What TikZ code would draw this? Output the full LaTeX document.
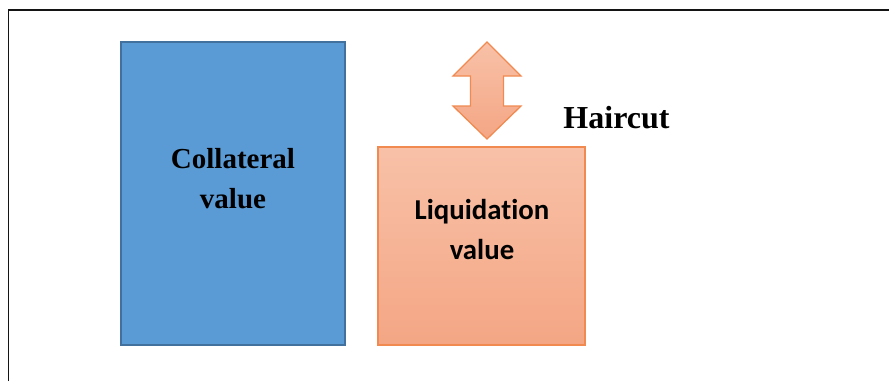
\documentclass[tikz,border=0pt]{standalone}
\usepackage{fontspec}
\setmainfont{Liberation Serif}
\newfontfamily\calib[Ligatures=CommonOff]{Carlito}
\definecolor{bluefill}{RGB}{91,155,213}
\definecolor{blueedge}{RGB}{65,113,156}
\definecolor{orangeedge}{RGB}{240,138,80}
\definecolor{peachtop}{RGB}{248,193,168}
\definecolor{peachbot}{RGB}{244,166,132}
\definecolor{frameline}{RGB}{20,20,20}
\tikzset{
  collbox/.style={draw=blueedge, line width=2pt, fill=bluefill},
  liqbox/.style={draw=orangeedge, line width=1.5pt, top color=peachtop, bottom color=peachbot},
  serifbold/.style={font=\fontsize{29}{35}\selectfont\bfseries, inner sep=0pt, anchor=base},
  calibbold/.style={font=\calib\fontsize{28.8}{34}\selectfont\bfseries, inner sep=0pt, anchor=base},
}
\begin{document}
\begin{tikzpicture}[x=1pt, y=-1pt]
  \useasboundingbox (0,0) rectangle (889,381);
  % page frame (open to the right and bottom)
  \draw[frameline, line width=1.8pt] (8.5,381) -- (8.5,9.8) -- (889,9.8);

  % collateral block
  \draw[collbox] (121,42) rectangle (345,345);
  \node[serifbold] (coll1) at (233,168) {Collateral};
  \node[serifbold] (coll2) at (233,208) {value};

  % liquidation block
  \draw[liqbox] (378,147) rectangle (585,345);
  \node[calibbold] (liq1) at (482,219) {Liquidation};
  \node[calibbold] (liq2) at (482,259) {value};

  % haircut double arrow
  \draw[draw=orangeedge, line width=1.3pt, top color=peachtop, bottom color=peachbot, line join=miter]
    (487,42) -- (521,76) -- (503.5,76) -- (503.5,106) -- (521,106) -- (487,139)
    -- (453,106) -- (470.5,106) -- (470.5,76) -- (453,76) -- cycle;
  \node[serifbold, font=\fontsize{32}{37}\selectfont\bfseries] (hc) at (616.5,128) {Haircut};
\end{tikzpicture}
\end{document}
